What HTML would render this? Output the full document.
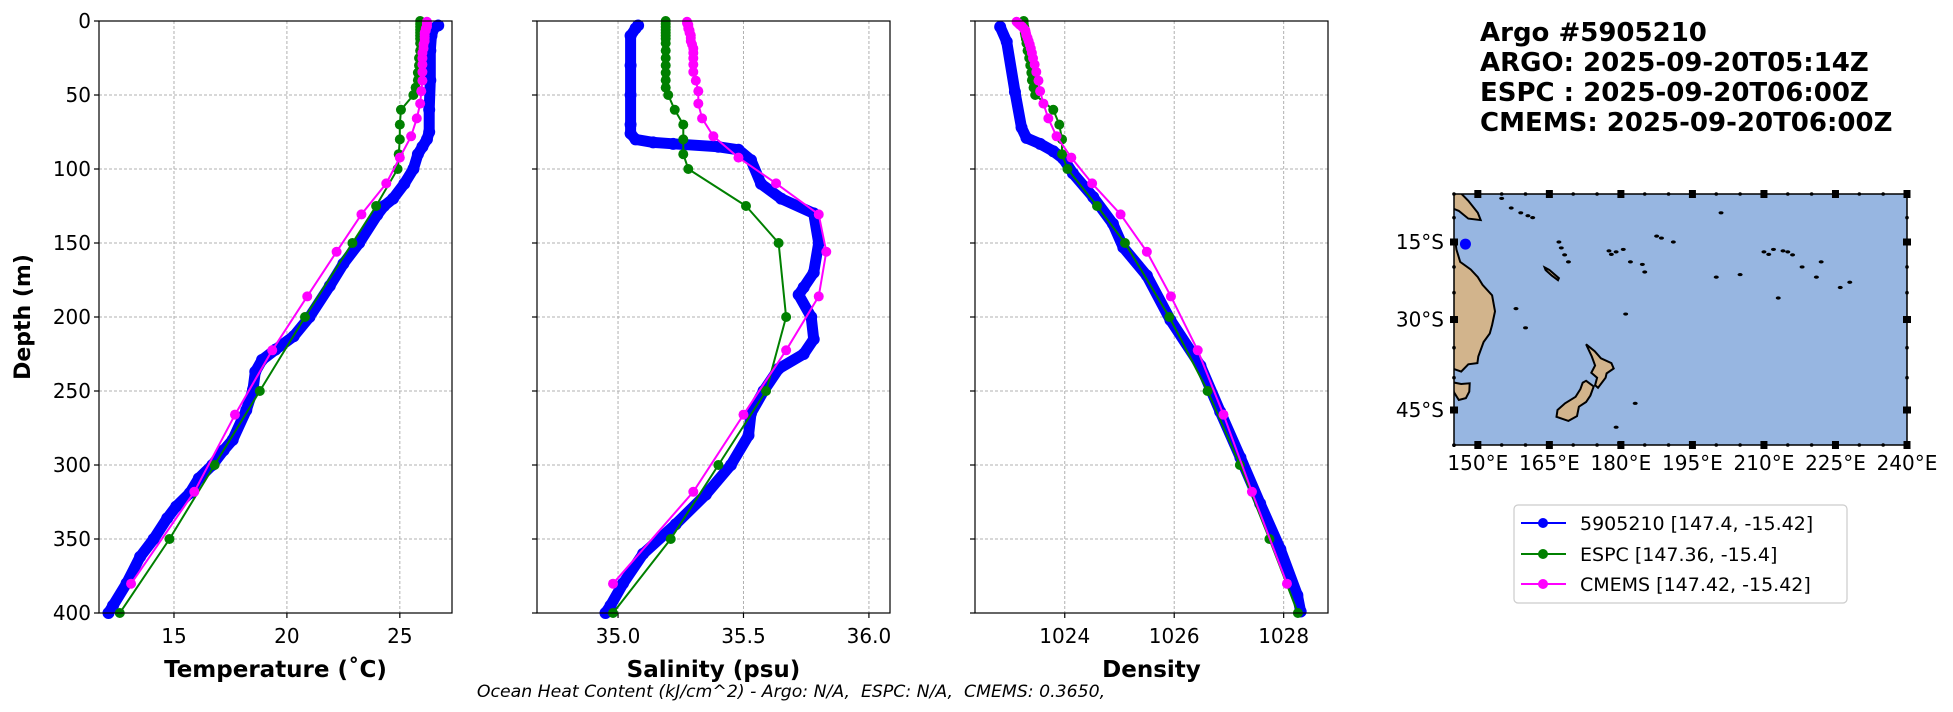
<!DOCTYPE html>
<html><head><meta charset="utf-8"><style>
html,body{margin:0;padding:0;background:#fff;}
svg{display:block;font-family:"DejaVu Sans","Liberation Sans",sans-serif;}
</style></head><body>
<svg id="fig" width="1953" height="712" viewBox="0 0 1953 712" xmlns="http://www.w3.org/2000/svg">
<g id="panels"></g>
<g id="map"></g>
<g font-weight="bold" font-size="26" fill="#000">
<text x="1480" y="41">Argo #5905210</text>
<text x="1480" y="71">ARGO: 2025-09-20T05:14Z</text>
<text x="1480" y="101">ESPC : 2025-09-20T06:00Z</text>
<text x="1480" y="131">CMEMS: 2025-09-20T06:00Z</text>
</g>
<g>
<rect x="1514" y="505" width="333" height="98" rx="4" fill="#fff" stroke="#cccccc" stroke-width="1.2"/>
<g><line x1="1521" y1="523" x2="1566" y2="523" stroke="#0000ff" stroke-width="2"/><circle cx="1543" cy="523" r="5" fill="#0000ff"/><text x="1580" y="530" font-size="19">5905210 [147.4, -15.42]</text></g>
<g><line x1="1521" y1="554" x2="1566" y2="554" stroke="#008000" stroke-width="2"/><circle cx="1543" cy="554" r="5" fill="#008000"/><text x="1580" y="561" font-size="19">ESPC [147.36, -15.4]</text></g>
<g><line x1="1521" y1="584" x2="1566" y2="584" stroke="#ff00ff" stroke-width="2"/><circle cx="1543" cy="584" r="5" fill="#ff00ff"/><text x="1580" y="591" font-size="19">CMEMS [147.42, -15.42]</text></g>
</g>
<text x="791" y="697" text-anchor="middle" font-size="17.3" font-style="italic" xml:space="preserve" style="white-space:pre">Ocean Heat Content (kJ/cm^2) - Argo: N/A,  ESPC: N/A,  CMEMS: 0.3650,</text>
<text transform="translate(30,317) rotate(-90)" text-anchor="middle" font-size="22" font-weight="bold">Depth (m)</text>
</svg>
<script>
// ---- data ----
const depthTicks = [0,50,100,150,200,250,300,350,400];
const argoTempDepth = [3,5,10,20,40,60,75,80,85,90,100,110,120,125,131,150,164,179,200,213,222,229,237,249,263,283,290,300,309,319,328,336,350,362,380,395,400];
const argoTemp = [26.7,26.5,26.4,26.35,26.35,26.3,26.3,26.2,26.0,25.8,25.6,25.2,24.7,24.3,24.0,23.2,22.5,21.9,21.0,20.3,19.5,18.9,18.6,18.5,18.2,17.6,17.2,16.7,16.1,15.7,15.1,14.7,14.1,13.5,12.9,12.3,12.1];
const argoSalDepth = [3,5,10,30,50,70,76,80,82,83,85,87,94,110,120,130,150,170,180,185,200,215,225,235,250,265,280,300,320,340,360,380,395,400];
const argoSal = [35.08,35.07,35.05,35.05,35.05,35.05,35.05,35.07,35.14,35.22,35.40,35.48,35.53,35.57,35.65,35.78,35.80,35.78,35.74,35.72,35.77,35.78,35.74,35.64,35.58,35.53,35.52,35.45,35.35,35.23,35.10,35.02,34.97,34.95];
const argoDensDepth = [4,14,48,72,79,83,88,93,103,119,137,153,172,202,233,264,295,326,357,388,399];
const argoDens = [1022.82,1022.94,1023.09,1023.21,1023.30,1023.55,1023.79,1023.97,1024.15,1024.52,1024.88,1025.07,1025.50,1025.93,1026.48,1026.84,1027.21,1027.57,1027.94,1028.25,1028.31];
const espcDepth = [0,2,4,6,8,10,12,15,20,25,30,35,40,45,50,60,70,80,90,100,125,150,200,250,300,350,400];
const espcTemp = [25.9,25.9,25.9,25.9,25.9,25.9,25.9,25.9,25.9,25.85,25.85,25.8,25.8,25.7,25.6,25.05,25.0,25.0,24.95,24.9,23.95,22.9,20.8,18.8,16.8,14.8,12.6];
const espcSal = [35.19,35.19,35.19,35.19,35.19,35.19,35.19,35.19,35.19,35.19,35.19,35.19,35.19,35.19,35.2,35.226,35.26,35.26,35.26,35.28,35.51,35.64,35.67,35.59,35.40,35.21,34.98];
const espcDens = [1023.25,1023.25,1023.26,1023.27,1023.27,1023.28,1023.29,1023.30,1023.32,1023.35,1023.37,1023.39,1023.40,1023.43,1023.46,1023.79,1023.90,1023.95,1023.95,1024.05,1024.59,1025.10,1025.91,1026.61,1027.20,1027.74,1028.26];
const cmemsDepth = [0.5,1.5,2.6,3.8,5.1,6.4,7.9,9.6,11.4,13.5,15.8,18.5,21.6,25.2,29.4,34.4,40.3,47.4,55.8,65.8,77.9,92.3,109.7,130.7,155.9,186.1,222.5,266.0,318.1,380.2];
const cmemsTemp = [26.2,26.2,26.2,26.2,26.15,26.15,26.1,26.1,26.1,26.1,26.05,26.05,26.0,26.0,26.0,26.0,26.0,25.95,25.9,25.75,25.5,25.0,24.4,23.3,22.2,20.9,19.35,17.7,15.9,13.1];
const cmemsSal = [35.275,35.275,35.28,35.28,35.28,35.285,35.285,35.29,35.29,35.29,35.295,35.3,35.3,35.3,35.3,35.3,35.31,35.32,35.32,35.335,35.38,35.48,35.63,35.80,35.83,35.80,35.67,35.50,35.30,34.98];
const cmemsDens = [1023.12,1023.15,1023.18,1023.22,1023.25,1023.28,1023.29,1023.30,1023.32,1023.34,1023.36,1023.38,1023.40,1023.42,1023.45,1023.48,1023.52,1023.55,1023.61,1023.70,1023.85,1024.12,1024.50,1025.02,1025.50,1025.94,1026.43,1026.90,1027.42,1028.06];
const tempTicks = [15,20,25];
const tempTickLabels = ["15","20","25"];
const salTicks = [35.0,35.5,36.0];
const salTickLabels = ["35.0","35.5","36.0"];
const densTicks = [1024,1026,1028];
const densTickLabels = ["1024","1026","1028"];
const mapLonTicks = [150,165,180,195,210,225,240];
const mapLatTicks = [-15,-30,-45];
const argoLocation = [147.4,-15.42];

const NS="http://www.w3.org/2000/svg";
function mk(tag,attrs,parent){const e=document.createElementNS(NS,tag);for(const k in attrs)e.setAttribute(k,attrs[k]);if(parent)parent.appendChild(e);return e;}

const TOP=21, BOT=613;
function yScale(d){return TOP+(d/400)*(BOT-TOP);}

const panels=[
 {name:"temperature",left:99,xmin:11.68,xmax:27.31,ticks:tempTicks,labels:tempTickLabels,title:"Temperature (\u02DAC)",
  series:[[argoTempDepth,argoTemp],[espcDepth,espcTemp],[cmemsDepth,cmemsTemp]]},
 {name:"salinity",left:537,xmin:34.677,xmax:36.084,ticks:salTicks,labels:salTickLabels,title:"Salinity (psu)",
  series:[[argoSalDepth,argoSal],[espcDepth,espcSal],[cmemsDepth,cmemsSal]]},
 {name:"density",left:975,xmin:1022.36,xmax:1028.81,ticks:densTicks,labels:densTickLabels,title:"Density",
  series:[[argoDensDepth,argoDens],[espcDepth,espcDens],[cmemsDepth,cmemsDens]]}
];
const W=353;
const colors=["#0000ff","#008000","#ff00ff"];
const snames=["argo","espc","cmems"];
const root=document.getElementById('panels');
panels.forEach((p,pi)=>{
  const g=mk('g',{},root);
  
  
  const xs=v=>p.left+(v-p.xmin)/(p.xmax-p.xmin)*W;
  depthTicks.forEach(d=>{
    const l=mk('line',{x1:p.left,x2:p.left+W,y1:yScale(d),y2:yScale(d),stroke:"#b0b0b0","stroke-width":1,"stroke-dasharray":"3,2"},g);
    
    
    const t=mk('line',{x1:p.left-5,x2:p.left,y1:yScale(d),y2:yScale(d),stroke:"#000","stroke-width":1.2},g);
    
    
    if(pi===0){
      const tl=mk('text',{x:p.left-8,y:yScale(d)+7,"text-anchor":"end","font-size":20},g);
      tl.textContent=String(d);
      
      
    }
  });
  p.ticks.forEach((v,i)=>{
    const l=mk('line',{x1:xs(v),x2:xs(v),y1:TOP,y2:BOT,stroke:"#b0b0b0","stroke-width":1,"stroke-dasharray":"3,2"},g);
    
    
    const t=mk('line',{x1:xs(v),x2:xs(v),y1:BOT,y2:BOT+5,stroke:"#000","stroke-width":1.2},g);
    
    
    const tl=mk('text',{x:xs(v),y:BOT+30,"text-anchor":"middle","font-size":20},g);
    tl.textContent=p.labels[i];
    
    
  });
  const clipId='clip'+pi;
  const cp=mk('clipPath',{id:clipId},g);
  mk('rect',{x:p.left,y:TOP-8,width:W,height:BOT-TOP+16},cp);
  const sg=mk('g',{"clip-path":"url(#"+clipId+")"},g);
  p.series.forEach((s,si)=>{
    const [ds,vs]=s;
    const pts=ds.map((d,i)=>xs(vs[i]).toFixed(1)+","+yScale(d).toFixed(1)).join(" ");
    const ser=mk('g',{},sg);
    
    
    const pl=mk('polyline',{points:pts,fill:"none",stroke:colors[si],"stroke-width":si===0?11:2,"stroke-linejoin":"round","stroke-linecap":"round"},ser);
    
    
    ds.forEach((d,i)=>{
      const c=mk('circle',{cx:xs(vs[i]),cy:yScale(d),r:si===0?6:5,fill:colors[si]},ser);
      
      
    });
  });
  const fr=mk('rect',{x:p.left,y:TOP,width:W,height:BOT-TOP,fill:"none",stroke:"#000","stroke-width":1.2},g);
  
  
  const xt=mk('text',{x:p.left+W/2,y:BOT+64,"text-anchor":"middle","font-size":23,"font-weight":"bold"},g);
  xt.textContent=p.title;
  
  
});

// ---- map ----
const M={x0:1454,x1:1907,y0:194,y1:445};
function merc(lat){return Math.log(Math.tan(Math.PI/4+lat*Math.PI/360));}
function mx(lon){return M.x0+(lon-145)/95*(M.x1-M.x0);}
function my(lat){return 242+(merc(-15)-merc(lat))*272.5;}
const mg=document.getElementById('map');
const mcp=mk('clipPath',{id:'mapclip'},mg);
mk('rect',{x:M.x0,y:M.y0,width:M.x1-M.x0,height:M.y1-M.y0},mcp);
const ocean=mk('rect',{x:M.x0,y:M.y0,width:M.x1-M.x0,height:M.y1-M.y0,fill:"#97b6e1"},mg);


const landG=mk('g',{"clip-path":"url(#mapclip)"},mg);
const lands={
 "papua-new-guinea":[[144,-4],[146.5,-5],[148,-6.5],[150,-9],[150.6,-10.5],[148,-10.2],[146,-8.6],[144,-7.8]],
 "australia":[[144,-14],[145.3,-14.8],[145.5,-16.5],[146.3,-19],[148.5,-20.5],[150,-22],[151,-23.5],[153,-25.5],[153.6,-28.5],[153,-31],[152.5,-32.5],[151.2,-34],[150.1,-36.5],[149.9,-37.6],[148,-37.8],[146.5,-39],[144,-38.3]],
 "tasmania":[[144.5,-40.7],[146.5,-41],[148.3,-40.9],[148.2,-42.2],[147.5,-43.2],[146,-43.5],[145,-42.3]],
 "new-zealand-north":[[172.7,-34.4],[174.5,-35.6],[175.8,-36.8],[178,-37.6],[178.5,-38.5],[177,-39.3],[176.8,-40],[175.2,-41.6],[174.6,-41.2],[175,-40],[173.8,-39.2],[174.6,-38],[173.9,-36.5]],
 "new-zealand-south":[[172.7,-40.5],[174.3,-41.4],[173.6,-42.8],[172.7,-43.8],[171.2,-44.5],[170.8,-45.9],[169,-46.6],[166.5,-46],[166.7,-45],[168.3,-44],[170.5,-43],[171.5,-41.8],[172,-40.8]],
 "new-caledonia":[[164,-20.1],[165,-20.6],[167,-22.2],[166.8,-22.6],[165.5,-21.7],[164.2,-20.6]]
};
for(const k in lands){
  const pts=lands[k].map(q=>mx(q[0]).toFixed(1)+","+my(q[1]).toFixed(1)).join(" ");
  const pg=mk('polygon',{points:pts,fill:"#d2b48c",stroke:"#000","stroke-width":2},landG);
  
  
}
const islands=[[155,-6],[157,-8],[159,-9],[160.5,-9.6],[161.5,-10],[167,-15],[167.5,-16.2],[168.2,-17.6],[169,-19],[178,-17.5],[179,-17],[177.5,-16.8],[180.5,-16.5],[182,-19],[185,-21],[184.5,-19.5],[187.5,-13.8],[188.5,-14.2],[191,-15],[201,-9],[210,-17],[211,-17.5],[212,-16.5],[214,-16.8],[215,-17],[216,-17.6],[218,-20],[221,-22],[222,-19],[226,-24],[200,-22],[205,-21.5],[228,-23],[213,-26],[158,-28],[160,-31.5],[181,-29],[183,-44],[179,-47.5],[179.7,-49.7]];
islands.forEach(q=>{
  const c=mk('ellipse',{cx:mx(q[0]),cy:my(q[1]),rx:2.5,ry:1.6,fill:"#000"},landG);
  
  
});
const loc=mk('circle',{cx:mx(argoLocation[0]),cy:my(argoLocation[1]),r:5.5,fill:"#0000ff"},mg);


const mframe=mk('rect',{x:M.x0,y:M.y0,width:M.x1-M.x0,height:M.y1-M.y0,fill:"none",stroke:"#000","stroke-width":1.5},mg);


for(let lon=145;lon<=240;lon+=5){
  const major=mapLonTicks.includes(lon);
  [M.y0,M.y1].forEach(yy=>{
    const r=major?mk('rect',{x:mx(lon)-3.5,y:yy-4,width:7,height:8,fill:"#000"},mg):mk('circle',{cx:mx(lon),cy:yy,r:1.8,fill:"#000"},mg);
    
    
  });
}
mapLonTicks.forEach(lon=>{
  const t=mk('text',{x:mx(lon),y:470,"text-anchor":"middle","font-size":20},mg);
  t.textContent=lon+"\u00B0E";
  
  
});
for(let lat=-10;lat>=-50;lat-=5){
  const major=mapLatTicks.includes(lat);
  [M.x0,M.x1].forEach(xx=>{
    const r=major?mk('rect',{x:xx-4,y:my(lat)-3.5,width:8,height:7,fill:"#000"},mg):mk('circle',{cx:xx,cy:my(lat),r:1.8,fill:"#000"},mg);
    
    
  });
}
mapLatTicks.forEach(lat=>{
  const t=mk('text',{x:M.x0-10,y:my(lat)+7,"text-anchor":"end","font-size":20},mg);
  t.textContent=(-lat)+"\u00B0S";
  
  
});
</script>
</body></html>
